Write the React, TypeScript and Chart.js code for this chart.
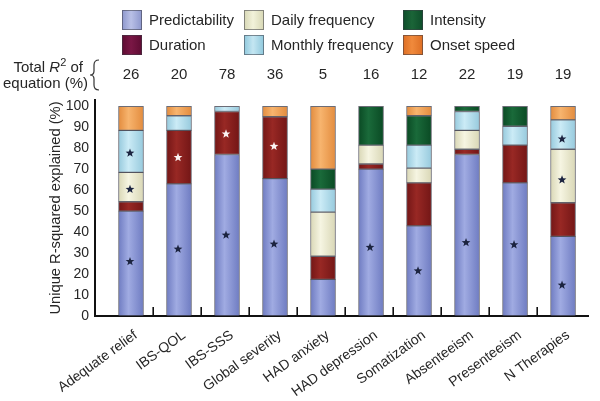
import { useEffect, useRef } from 'react';
import { Chart, registerables } from 'chart.js';

Chart.register(...registerables);

const categories = ['Adequate relief', 'IBS-QOL', 'IBS-SSS', 'Global severity', 'HAD anxiety', 'HAD depression', 'Somatization', 'Absenteeism', 'Presenteeism', 'N Therapies'];
const totalR2 = [26, 20, 78, 36, 5, 16, 12, 22, 19, 19];
const predictability = [50, 63, 77, 65.5, 17.5, 70, 43, 77, 63.5, 38];
const duration = [4.5, 25.5, 20.5, 29.5, 11, 2.5, 20.5, 2.5, 18, 16];
const dailyFrequency = [14, 0, 0, 0, 21, 9, 7, 9, 0, 25.5];
const monthlyFrequency = [20, 7, 2.5, 0, 11, 0, 11, 9, 9, 14];
const intensity = [0, 0, 0, 0, 9.5, 18.5, 14, 2.5, 9.5, 0];
const onsetSpeed = [11.5, 4.5, 0, 5, 30, 0, 4.5, 0, 0, 6.5];
const yTicks = [0, 10, 20, 30, 40, 50, 60, 70, 80, 90, 100];

const starCategory = [0, 0, 0, 1, 1, 2, 2, 3, 3, 5, 6, 7, 8, 9, 9, 9];
const starValue = [26, 60.4, 77.7, 31.9, 75.6, 38.6, 86.8, 34.3, 80.9, 32.7, 21.5, 35, 34, 14.7, 64.9, 84.4];
const starWhite = [false, false, false, false, true, false, true, false, true, false, false, false, false, false, false, false];

const FONT = "'Liberation Sans', Arial, Helvetica, sans-serif";
const TEXT = '#262626';
const BAR_W = 25;

type Series = { label: string; values: number[]; dark: string; light: string; legend: string; legendLight: string };
const series: Series[] = [
  { label: 'Predictability', values: predictability, dark: '#6f7cc2', light: '#a0abe2', legend: '#8c96cc', legendLight: '#b9c0e6' },
  { label: 'Duration', values: duration, dark: '#731616', light: '#982824', legend: '#5e0c33', legendLight: '#7a1745' },
  { label: 'Daily frequency', values: dailyFrequency, dark: '#d9d7b6', light: '#f6f5e2', legend: '#d7d7b4', legendLight: '#f2f2da' },
  { label: 'Monthly frequency', values: monthlyFrequency, dark: '#97cadd', light: '#cbebf6', legend: '#8fc8dc', legendLight: '#c4e6f2' },
  { label: 'Intensity', values: intensity, dark: '#0a4a24', light: '#1a6a3a', legend: '#0e4d2a', legendLight: '#1b6538' },
  { label: 'Onset speed', values: onsetSpeed, dark: '#e38c3e', light: '#f7b46e', legend: '#dd6e24', legendLight: '#f08a3c' },
];

const legendOrder = [0, 2, 4, 1, 3, 5];
const legendCols = [122, 244, 403];
const legendRows = [10, 35];

function drawStar(ctx: CanvasRenderingContext2D, cx: number, cy: number, r: number, color: string) {
  ctx.beginPath();
  for (let k = 0; k < 10; k++) {
    const rad = k % 2 === 0 ? r : r * 0.42;
    const a = -Math.PI / 2 + (k * Math.PI) / 5;
    const px = cx + rad * Math.cos(a);
    const py = cy + rad * Math.sin(a);
    if (k === 0) ctx.moveTo(px, py);
    else ctx.lineTo(px, py);
  }
  ctx.closePath();
  ctx.fillStyle = color;
  ctx.fill();
}

const overlay = {
  id: 'overlay',
  afterDatasetsDraw(chart: any) {
    const { ctx } = chart;
    const xs = chart.scales.x;
    const ys = chart.scales.y;
    ctx.save();
    ctx.strokeStyle = '#111';
    ctx.lineWidth = 1.6;
    const y0 = ys.getPixelForValue(0);
    for (let i = 0; i < categories.length - 1; i++) {
      const px = Math.round(xs.getPixelForValue(i + 1.45)) + 0.2;
      ctx.beginPath();
      ctx.moveTo(px, y0);
      ctx.lineTo(px, y0 - 9);
      ctx.stroke();
    }
    for (let k = 0; k < starCategory.length; k++) {
      const px = xs.getPixelForValue(starCategory[k] + 1) - 1;
      const py = ys.getPixelForValue(starValue[k]);
      drawStar(ctx, px, py, 4.6, starWhite[k] ? '#fbf4f4' : '#1c2440');
    }
    ctx.restore();
  },
  afterDraw(chart: any) {
    const { ctx } = chart;
    const xs = chart.scales.x;
    ctx.save();
    ctx.font = `15px ${FONT}`;
    ctx.textBaseline = 'middle';
    ctx.textAlign = 'left';
    legendOrder.forEach((si, idx) => {
      const s = series[si];
      const bx = legendCols[idx % 3];
      const by = legendRows[Math.floor(idx / 3)];
      const g = ctx.createLinearGradient(bx, 0, bx + 20, 0);
      g.addColorStop(0, s.legend);
      g.addColorStop(0.45, s.legendLight);
      g.addColorStop(1, s.legend);
      ctx.fillStyle = g;
      ctx.fillRect(bx, by, 20, 20);
      ctx.strokeStyle = 'rgba(60,60,70,0.55)';
      ctx.lineWidth = 1;
      ctx.strokeRect(bx + 0.5, by + 0.5, 19, 19);
      ctx.fillStyle = TEXT;
      ctx.fillText(s.label, bx + 27, by + 10.5);
    });
    ctx.textAlign = 'left';
    ctx.textBaseline = 'alphabetic';
    const base1 = 72;
    const base2 = 88;
    const parts: [string, string, number][] = [
      ['Total ', `15px ${FONT}`, 0],
      ['R', `italic 15px ${FONT}`, 0],
      ['2', `11px ${FONT}`, -6],
      [' of', `15px ${FONT}`, 0],
    ];
    let total = 0;
    parts.forEach(([t, f]) => { ctx.font = f; total += ctx.measureText(t).width; });
    let cx = 83 - total;
    parts.forEach(([t, f, dy]) => {
      ctx.font = f;
      ctx.fillStyle = TEXT;
      ctx.fillText(t, cx, base1 + dy);
      cx += ctx.measureText(t).width;
    });
    ctx.font = `15px ${FONT}`;
    ctx.textAlign = 'right';
    ctx.fillText('equation (%)', 88, base2);
    ctx.strokeStyle = '#333';
    ctx.lineWidth = 1.2;
    ctx.beginPath();
    ctx.moveTo(99, 60);
    ctx.quadraticCurveTo(94, 60, 94, 65);
    ctx.lineTo(94, 71);
    ctx.quadraticCurveTo(94, 75, 90, 75);
    ctx.quadraticCurveTo(94, 75, 94, 79);
    ctx.lineTo(94, 85);
    ctx.quadraticCurveTo(94, 90, 99, 90);
    ctx.stroke();
    ctx.textAlign = 'center';
    ctx.textBaseline = 'middle';
    ctx.font = `15px ${FONT}`;
    totalR2.forEach((v, i) => {
      ctx.fillText(String(v), xs.getPixelForValue(i + 1), 74.5);
    });
    ctx.restore();
  },
};

export default function App() {
  const ref = useRef<HTMLCanvasElement>(null);
  useEffect(() => {
    const canvas = ref.current;
    if (!canvas) return;
    Chart.defaults.font.family = FONT;
    const makeBg = (dark: string, light: string) => (c: any) => {
      const chart = c.chart;
      const xs = chart.scales && chart.scales.x;
      if (!xs || c.type !== 'data') return light;
      const center = xs.getPixelForValue(c.dataIndex + 1);
      if (!Number.isFinite(center)) return light;
      const g = chart.ctx.createLinearGradient(center - BAR_W / 2, 0, center + BAR_W / 2, 0);
      g.addColorStop(0, dark);
      g.addColorStop(0.4, light);
      g.addColorStop(1, dark);
      return g;
    };
    const chart = new Chart(canvas, {
      type: 'bar',
      data: {
        datasets: series.map((s) => ({
          label: s.label,
          data: s.values.map((v, i) => ({ x: i + 1, y: v })),
          backgroundColor: makeBg(s.dark, s.light),
          borderColor: 'rgba(45,45,60,0.7)',
          borderWidth: 1,
          borderSkipped: false,
          barThickness: BAR_W,
        })),
      },
      options: {
        animation: false,
        responsive: false,
        layout: { padding: { left: 0, right: 12, top: 100, bottom: 0 } },
        plugins: { legend: { display: false }, tooltip: { enabled: false } },
        scales: {
          x: {
            type: 'linear',
            stacked: true,
            offset: false,
            min: 0.25,
            max: 10.52,
            grid: { display: false, drawTicks: false, offset: false },
            border: { display: true, color: '#111', width: 2 },
            afterBuildTicks: (axis: any) => {
              axis.ticks = categories.map((_, i) => ({ value: i + 1 }));
            },
            ticks: {
              callback: (v: any) => categories[Math.round(Number(v)) - 1] ?? '',
              minRotation: 36,
              maxRotation: 36,
              autoSkip: false,
              padding: 11,
              labelOffset: 5,
              color: TEXT,
              font: { size: 14, family: FONT },
            },
            afterFit: (axis: any) => { axis.height = 85; axis.paddingLeft = 0; axis.paddingRight = 0; },
          },
          y: {
            stacked: true,
            min: 0,
            max: 103,
            grid: { display: false, drawTicks: false },
            border: { display: true, color: '#111', width: 2 },
            afterBuildTicks: (axis: any) => {
              axis.ticks = yTicks.map((v) => ({ value: v }));
            },
            ticks: { padding: 6, color: TEXT, font: { size: 14, family: FONT } },
            title: {
              display: true,
              text: 'Unique R-squared explained (%)',
              color: TEXT,
              font: { size: 14.7, family: FONT },
              padding: { top: 47, bottom: 0 },
            },
            afterFit: (axis: any) => { axis.width = 95; },
          },
        },
      } as any,
      plugins: [overlay],
    });
    return () => chart.destroy();
  }, []);
  return (
    <div style={{ position: 'fixed', left: 0, top: 0, width: 600, height: 401, background: '#fff' }}>
      <canvas ref={ref} width={600} height={401} style={{ display: 'block' }} />
    </div>
  );
}
